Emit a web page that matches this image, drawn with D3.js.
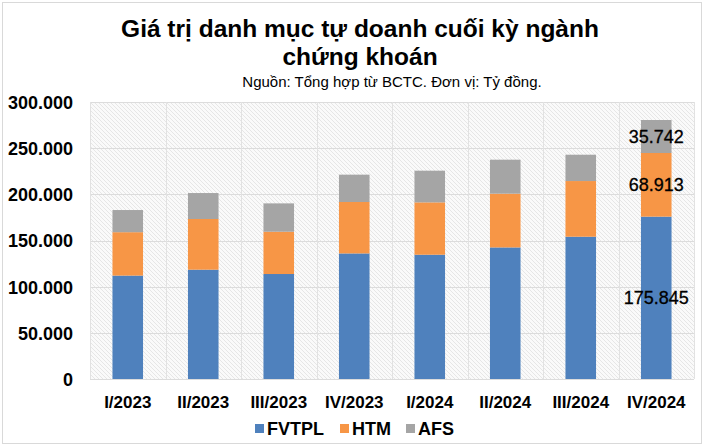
<!DOCTYPE html>
<html lang="vi">
<head>
  <meta charset="UTF-8" />
  <title>Giá trị danh mục tự doanh</title>
  <script src="https://cdnjs.cloudflare.com/ajax/libs/d3/7.8.5/d3.min.js"></script>
  <style>
    body { margin: 0; background: #fff; }
    text { font-family: "Liberation Sans", Arial, sans-serif; fill: #000; }
  </style>
</head>
<body>
<script type="text/javascript">

// du lieu doc tu hinh
var quarters = ["I/2023", "II/2023", "III/2023", "IV/2023", "I/2024", "II/2024", "III/2024", "IV/2024"];
var fvtpl = [112000, 118400, 113700, 136000, 134600, 142500, 154100, 175845];
var htm   = [47000, 54900, 45800, 55700, 56700, 58200, 60300, 68913];
var afs   = [24000, 28100, 30700, 29600, 34300, 36800, 28500, 35742];
var seriesNames = ["FVTPL", "HTM", "AFS"];
var yTicks = [0, 50000, 100000, 150000, 200000, 250000, 300000];

var colors = { FVTPL: "#4f81bd", HTM: "#f79646", AFS: "#a5a5a5" };
var W = 706, H = 447;
var pLeft = 90, pRight = 694, pTop = 102, pBottom = 379;

var rows = quarters.map(function(q, i) {
  return { q: q, FVTPL: fvtpl[i], HTM: htm[i], AFS: afs[i], i: i };
});

var svg = d3.select("body").append("svg").attr("width", W).attr("height", H);

// khung ngoai
svg.append("rect").attr("x", 2.5).attr("y", 2.5).attr("width", 699).attr("height", 441)
  .attr("fill", "#fff").attr("stroke", "#d9d9d9");

// nen gach cheo
var pat = svg.append("defs").append("pattern").attr("id", "hatch")
  .attr("patternUnits", "userSpaceOnUse").attr("width", 4).attr("height", 4);
pat.append("rect").attr("width", 4).attr("height", 4).attr("fill", "#fafafa");
pat.append("path").attr("d", "M-1,-1 L5,5 M-1,3 L1,5 M3,-1 L5,1")
  .attr("stroke", "#e6e6e6").attr("stroke-width", 1);

var x = d3.scaleBand().domain(quarters).range([pLeft, pRight]).paddingInner(0.595).paddingOuter(0.2975);
var xCat = d3.scaleBand().domain(quarters).range([pLeft, pRight]);
var y = d3.scaleLinear().domain([0, 300000]).range([pBottom, pTop]);

svg.append("rect").attr("x", pLeft).attr("y", pTop).attr("width", pRight - pLeft).attr("height", pBottom - pTop)
  .attr("fill", "url(#hatch)");

// luoi ngang
svg.append("g").selectAll("line").data(yTicks).join("line")
  .attr("x1", pLeft).attr("x2", pRight)
  .attr("y1", function(d) { return Math.round(y(d)) + 0.5; })
  .attr("y2", function(d) { return Math.round(y(d)) + 0.5; })
  .attr("stroke", "#dcdcdc");

// luoi doc
svg.append("g").selectAll("line").data(quarters.concat(["end"])).join("line")
  .attr("x1", function(d, i) { return Math.round(pLeft + i * xCat.bandwidth()) + 0.5; })
  .attr("x2", function(d, i) { return Math.round(pLeft + i * xCat.bandwidth()) + 0.5; })
  .attr("y1", pTop).attr("y2", pBottom)
  .attr("stroke", "#e2e2e2");

var stacked = d3.stack().keys(seriesNames)(rows);

svg.append("g").selectAll("g").data(stacked).join("g")
  .attr("fill", function(s) { return colors[s.key]; })
  .selectAll("rect").data(function(s) { return s; }).join("rect")
  .attr("x", function(d) { return x(d.data.q); })
  .attr("width", x.bandwidth())
  .attr("y", function(d) { return y(d[1]); })
  .attr("height", function(d) { return y(d[0]) - y(d[1]); });

// nhan gia tri cot cuoi
var fmt = function(v) { return d3.format(",")(v).replace(/,/g, "."); };
var last = quarters.length - 1;
svg.append("g").selectAll("text").data(stacked).join("text")
  .attr("x", x(quarters[last]) + x.bandwidth() / 2)
  .attr("y", function(s) { return (y(s[last][0]) + y(s[last][1])) / 2; })
  .attr("dy", "0.36em")
  .attr("text-anchor", "middle")
  .style("font-size", "18px")
  .style("stroke", "#000").style("stroke-width", "0.3px")
  .text(function(s) { return fmt(s[last].data[s.key]); });

// truc y
var yAxis = d3.axisLeft(y).tickValues(yTicks).tickSize(0).tickPadding(0)
  .tickFormat(function(d) { return fmt(d); });
var gy = svg.append("g").attr("transform", "translate(73,0)").call(yAxis);
gy.select(".domain").remove();
gy.selectAll("text").style("font-size", "18px").style("font-weight", "bold")
  .style("font-family", "'Liberation Sans', Arial, sans-serif").attr("fill", "#000").attr("dy", "0.36em");

// truc x
var xAxis = d3.axisBottom(xCat).tickSize(0).tickPadding(0);
var gx = svg.append("g").attr("transform", "translate(0,396)").call(xAxis);
gx.select(".domain").remove();
gx.selectAll("text").style("font-size", "17px").style("font-weight", "bold")
  .style("font-family", "'Liberation Sans', Arial, sans-serif").attr("fill", "#000");

// tieu de
svg.append("text").attr("x", 360).attr("y", 37).attr("text-anchor", "middle")
  .style("font-size", "24.5px").style("font-weight", "bold")
  .text("Giá trị danh mục tự doanh cuối kỳ ngành");
svg.append("text").attr("x", 360).attr("y", 65).attr("text-anchor", "middle")
  .style("font-size", "24.5px").style("font-weight", "bold")
  .text("chứng khoán");
svg.append("text").attr("x", 392).attr("y", 87).attr("text-anchor", "middle")
  .style("font-size", "15px")
  .text("Nguồn: Tổng hợp từ BCTC. Đơn vị: Tỷ đồng.");

// chu giai
var legendX = [255, 340, 406];
var lg = svg.append("g").selectAll("g").data(seriesNames).join("g")
  .attr("transform", function(d, i) { return "translate(" + legendX[i] + ",0)"; });
lg.append("rect").attr("x", 0).attr("y", 424).attr("width", 9).attr("height", 9)
  .attr("fill", function(d) { return colors[d]; });
lg.append("text").attr("x", 12).attr("y", 435)
  .style("font-size", "18px").style("font-weight", "bold")
  .text(function(d) { return d; });

</script>
</body>
</html>
